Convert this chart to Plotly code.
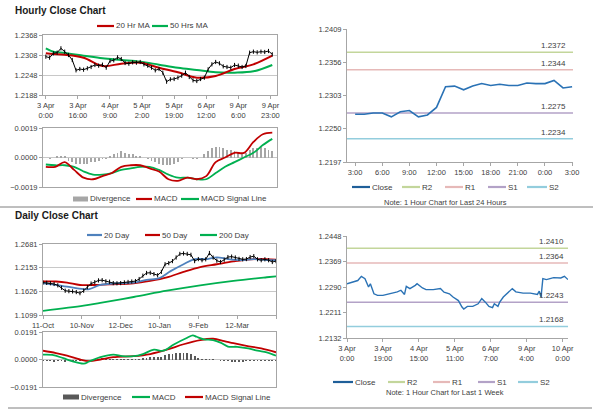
import plotly.graph_objects as go

W, H = 600, 413
FONT = "Liberation Sans, Arial, sans-serif"
TXT = "#404040"

# ---------------- Hourly close chart (top-left) ----------------
hourly_idx = [0, 2, 4, 6, 8, 10, 12, 14, 16, 18, 20, 22, 24, 26, 28, 30, 32, 34, 36, 38,
              40, 42, 44, 46, 48, 50, 52, 54, 56, 58, 60, 62, 64, 66, 68, 70, 72, 74, 76, 78,
              80, 82, 84, 86, 88, 90, 92, 94, 96, 98, 100, 102, 104, 106, 108, 110, 112, 114,
              116, 118, 120]
hourly_close = [1.2303, 1.2300, 1.2313, 1.2315, 1.2328, 1.2318, 1.2308, 1.2293, 1.2262, 1.2266,
                1.2264, 1.2268, 1.2272, 1.2278, 1.2276, 1.2279, 1.2270, 1.2290, 1.2292, 1.2301,
                1.2296, 1.2284, 1.2282, 1.2286, 1.2285, 1.2287, 1.2280, 1.2276, 1.2270, 1.2262,
                1.2266, 1.2255, 1.2228, 1.2235, 1.2236, 1.2240, 1.2246, 1.2255, 1.2242, 1.2232,
                1.2230, 1.2236, 1.2240, 1.2265, 1.2280, 1.2287, 1.2283, 1.2274, 1.2272, 1.2270,
                1.2278, 1.2276, 1.2272, 1.2275, 1.2315, 1.2318, 1.2316, 1.2318, 1.2317, 1.2320,
                1.2310]
hourly_ma_idx = [0, 4, 10, 20, 30, 40, 50, 60, 70, 80, 90, 100, 110, 120]
hourly_ma20 = [1.2313, 1.2311, 1.2309, 1.2300, 1.2275, 1.2282, 1.2285, 1.2270, 1.2256, 1.2240,
               1.2245, 1.2266, 1.2280, 1.2306]
hourly_ma50 = [1.2328, 1.2318, 1.2314, 1.2306, 1.2298, 1.2293, 1.2288, 1.2279, 1.2270, 1.2263,
               1.2256, 1.2255, 1.2259, 1.2278]
hourly_macd_idx = [0, 5, 10, 15, 20, 25, 30, 35, 40, 45, 50, 55, 60, 65, 70, 75, 80, 85, 90, 95,
                   100, 105, 110, 115, 120]
hourly_macd = [-0.0006, -0.0006, -0.0003, -0.0008, -0.0013, -0.0014, -0.0012, -0.0010, -0.0006,
               -0.0005, -0.0005, -0.0007, -0.0009, -0.0014, -0.0015, -0.0013, -0.0014, -0.0012,
               -0.0003, 0.0000, 0.0003, 0.0003, 0.0010, 0.0015, 0.0016]
hourly_signal = [-0.00045, -0.0005, -0.0005, -0.0006, -0.0009, -0.0011, -0.0011, -0.0010, -0.0008,
                 -0.0007, -0.0006, -0.0006, -0.0008, -0.0011, -0.0013, -0.0013, -0.0014, -0.0014,
                 -0.0010, -0.0006, -0.0003, 0.0000, 0.0003, 0.0008, 0.0012]
hourly_div = [0.0000, -0.0001, 0.0000, 0.0001, 0.0001, 0.0001,
              -0.0002, -0.0003, -0.0004, -0.0004, -0.0004, -0.0004, -0.0003, -0.0003, -0.0002, -0.0001,
              -0.0001, 0.0001, 0.0002, 0.0003,
              0.0004, 0.0003, 0.0002, 0.0002, 0.0001, 0.0001,
              0.0000, -0.0001, -0.0002, -0.0003, -0.0004, -0.0005, -0.0005, -0.0005, -0.0004, -0.0003,
              -0.0001, 0.0000, 0.0000, -0.0001, -0.0001, 0.0000, 0.0002,
              0.0004, 0.0006, 0.0007, 0.0007, 0.0006, 0.0005, 0.0005, 0.0004, 0.0003, 0.0002, 0.0003,
              0.0005, 0.0006, 0.0006, 0.0007, 0.0006, 0.0005, 0.0004]
hourly_tick_pos = [0, 17, 34, 51, 68, 85, 102, 119]
hourly_tick_labels = ["3 Apr<br>0:00", "3 Apr<br>16:00", "4 Apr<br>9:00", "5 Apr<br>2:00",
                      "5 Apr<br>19:00", "6 Apr<br>12:00", "9 Apr<br>6:00", "9 Apr<br>23:00"]
hourly_yticks = [1.2188, 1.2248, 1.2308, 1.2368]
hourly_macd_ticks = [-0.0019, 0.0, 0.0019]

# ---------------- Last 24 hours (top-right) ----------------
day_hours = [0, 1, 2, 3, 4, 5, 6, 7, 8, 9, 10, 11, 12, 13, 14, 15, 16, 17, 18, 19, 20, 21, 22, 23, 24]
day_close = [1.2273, 1.2273, 1.2275, 1.2275, 1.2269, 1.2277, 1.2279, 1.2269, 1.2272, 1.2284,
             1.2317, 1.2318, 1.2312, 1.2318, 1.2322, 1.2319, 1.2321, 1.2319, 1.2319, 1.2323,
             1.2322, 1.2322, 1.2327, 1.2315, 1.2317]
day_tick_pos = [0, 3, 6, 9, 12, 15, 18, 21, 24]
day_tick_labels = ["3:00", "6:00", "9:00", "12:00", "15:00", "18:00", "21:00", "0:00", "3:00"]
day_yticks = [1.2197, 1.2250, 1.2303, 1.2356, 1.2409]
level_names = ["R2", "R1", "S1", "S2"]
level_colors = ["#c3d69b", "#e6b9b8", "#b3a2c7", "#93cddd"]
day_levels = [1.2372, 1.2344, 1.2275, 1.2234]

# ---------------- Daily close chart (bottom-left) ----------------
daily_idx = [0, 2, 4, 6, 8, 10, 12, 14, 16, 18, 20, 22, 24, 26, 28, 30, 32, 34, 36, 38, 40, 42,
             44, 46, 48, 50, 52, 54, 56, 58, 60, 62, 64, 66, 68, 70, 72, 74, 76, 78, 80, 82, 84,
             86, 88, 90, 92, 94, 96, 98, 100, 102, 104, 106, 108, 110, 112, 114, 116, 118, 120,
             122, 124, 126]
daily_close = [1.1822, 1.1815, 1.1806, 1.1790, 1.1760, 1.1706, 1.1640, 1.1630, 1.1625, 1.1610,
               1.1585, 1.1640, 1.1720, 1.1800, 1.1830, 1.1870, 1.1875, 1.1850, 1.1840, 1.1810,
               1.1805, 1.1810, 1.1825, 1.1835, 1.1845, 1.1855, 1.1900, 1.1975, 1.2035, 1.2040,
               1.2010, 1.1985, 1.2060, 1.2230, 1.2255, 1.2300, 1.2380, 1.2460, 1.2470, 1.2460,
               1.2440, 1.2300, 1.2345, 1.2320, 1.2340, 1.2480, 1.2380, 1.2310, 1.2280, 1.2330,
               1.2390, 1.2400, 1.2380, 1.2350, 1.2340, 1.2345, 1.2390, 1.2410, 1.2340, 1.2320,
               1.2340, 1.2320, 1.2280, 1.2300]
ma20_idx = [0, 5, 13, 22, 25, 31, 40, 49, 56, 63, 69, 76, 82, 89, 94, 100, 107, 114, 121, 126]
ma20 = [1.1806, 1.1783, 1.1730, 1.1676, 1.1676, 1.1768, 1.1806, 1.1822, 1.1884, 1.1922, 1.2076,
        1.2230, 1.2345, 1.2345, 1.2384, 1.2345, 1.2322, 1.2345, 1.2322, 1.2322]
ma50_idx = [0, 7, 13, 20, 27, 36, 49, 58, 67, 76, 85, 94, 103, 112, 121, 126]
ma50 = [1.1845, 1.1845, 1.1822, 1.1768, 1.1768, 1.1784, 1.1806, 1.1860, 1.1937, 1.2061, 1.2168,
        1.2230, 1.2292, 1.2338, 1.2345, 1.2330]
ma200_idx = [0, 22, 31, 49, 67, 85, 103, 121, 126]
ma200 = [1.1191, 1.1306, 1.1370, 1.1500, 1.1640, 1.1760, 1.1860, 1.1940, 1.1960]
daily_macd_idx = [0, 5, 11, 16, 22, 25, 31, 38, 43, 49, 54, 60, 65, 71, 78, 81, 83, 87, 92, 96,
                  100, 105, 111, 116, 121, 126]
daily_macd = [0.0034, 0.0032, 0.0009, -0.0013, -0.0029, -0.0014, 0.0016, 0.0034, 0.0023, 0.0023,
              0.0038, 0.0068, 0.0061, 0.0106, 0.0151, 0.0167, 0.0158, 0.0140, 0.0135, 0.0117,
              0.0090, 0.0088, 0.0077, 0.0061, 0.0050, 0.0027]
daily_signal_idx = [0, 7, 13, 20, 25, 31, 38, 49, 58, 67, 76, 85, 92, 98, 103, 110, 118, 126]
daily_signal = [0.0061, 0.0045, 0.0027, 0.0000, -0.0011, 0.0000, 0.0016, 0.0023, 0.0038, 0.0068,
                0.0106, 0.0135, 0.0144, 0.0128, 0.0113, 0.0095, 0.0077, 0.0050]
daily_div = [-0.0012, -0.0013, -0.0013, -0.0014, -0.0013, -0.0013, -0.0014, -0.0012, -0.0010,
             -0.0010, -0.0012, -0.0010, -0.0005, -0.0002, 0.0002, 0.0005, 0.0008, 0.0006, 0.0005,
             0.0004, 0.0003, 0.0002, 0.0002, 0.0003, 0.0004, 0.0005, 0.0006, 0.0008, 0.0012,
             0.0015, 0.0016, 0.0015, 0.0020, 0.0030, 0.0035, 0.0040, 0.0042, 0.0044, 0.0045,
             0.0042, 0.0038, 0.0025, 0.0012, 0.0005, 0.0003, 0.0004, 0.0001, -0.0003, -0.0007,
             -0.0010, -0.0013, -0.0014, -0.0015, -0.0014, -0.0014, -0.0013, -0.0012, -0.0012,
             -0.0012, -0.0011, -0.0010, -0.0010, -0.0010, -0.0009]
daily_tick_pos = [0, 21, 42, 63, 84, 105, 126]
daily_tick_labels = ["11-Oct", "10-Nov", "12-Dec", "10-Jan", "9-Feb", "12-Mar", ""]
daily_yticks = [1.1099, 1.1626, 1.2153, 1.2681]
daily_macd_ticks = [-0.0191, 0.0, 0.0191]

# ---------------- Last 1 week (bottom-right) ----------------
week_idx = [0, 4, 6, 8, 10, 12, 13, 15, 17, 20, 24, 28, 30, 32, 33, 35, 38, 39, 42, 44, 48, 52,
            54, 57, 59, 62, 64, 65, 67, 70, 73, 75, 77, 79, 81, 82, 84, 85, 87, 89, 92, 94, 98,
            102, 106, 107, 108, 109, 111, 115, 119, 121, 123]
week_close = [1.2300, 1.2308, 1.2310, 1.2323, 1.2316, 1.2290, 1.2300, 1.2269, 1.2264, 1.2264,
              1.2269, 1.2275, 1.2280, 1.2267, 1.2292, 1.2285, 1.2295, 1.2300, 1.2287, 1.2282,
              1.2282, 1.2285, 1.2274, 1.2269, 1.2259, 1.2248, 1.2228, 1.2222, 1.2230, 1.2230,
              1.2238, 1.2254, 1.2243, 1.2230, 1.2226, 1.2238, 1.2230, 1.2243, 1.2259, 1.2269,
              1.2285, 1.2275, 1.2271, 1.2271, 1.2267, 1.2277, 1.2259, 1.2316, 1.2313, 1.2319,
              1.2318, 1.2323, 1.2313]
week_tick_pos = [0, 20, 40, 60, 80, 100, 120]
week_tick_labels = ["3 Apr<br>0:00", "3 Apr<br>19:00", "4 Apr<br>15:00", "5 Apr<br>11:00",
                    "6 Apr<br>7:00", "9 Apr<br>4:00", "10 Apr<br>0:00"]
week_yticks = [1.2132, 1.2211, 1.2290, 1.2369, 1.2448]
week_levels = [1.2410, 1.2364, 1.2243, 1.2168]

RED, GREEN, BLUE = "#c00000", "#00b050", "#4f81bd"
CLOSE_BLUE = "#2a72b5"


def fx(p):
    return p / W


def fy(p):
    return 1 - p / H


fig = go.Figure()


def add(tr, n):
    tr.update(xaxis="x" if n == 1 else f"x{n}", yaxis="y" if n == 1 else f"y{n}", showlegend=False,
              hoverinfo="skip")
    fig.add_trace(tr)


TICKMARK = dict(symbol="line-ns-open", size=3, color="black", line=dict(width=1, color="black"))

# Panel 1: hourly price
add(go.Scatter(x=hourly_ma_idx, y=hourly_ma50, mode="lines", line=dict(color=GREEN, width=2, shape="spline")), 1)
add(go.Scatter(x=hourly_ma_idx, y=hourly_ma20, mode="lines", line=dict(color=RED, width=2, shape="spline")), 1)
add(go.Scatter(x=hourly_idx, y=hourly_close, mode="lines+markers", line=dict(color="black", width=1),
               marker=TICKMARK), 1)
# Panel 2: hourly MACD
add(go.Bar(x=hourly_idx, y=hourly_div, width=1.0, marker=dict(color="#a6a6a6", line=dict(width=0))), 2)
add(go.Scatter(x=hourly_macd_idx, y=hourly_signal, mode="lines", line=dict(color=GREEN, width=1.8, shape="spline")), 2)
add(go.Scatter(x=hourly_macd_idx, y=hourly_macd, mode="lines", line=dict(color=RED, width=1.8, shape="spline")), 2)
# Panel 3: last 24 hours
for name, col, lv in zip(level_names, level_colors, day_levels):
    add(go.Scatter(x=[-0.9, 24.1], y=[lv, lv], mode="lines", line=dict(color=col, width=1.5)), 3)
add(go.Scatter(x=day_hours, y=day_close, mode="lines", line=dict(color=CLOSE_BLUE, width=1.6)), 3)
# Panel 4: daily price
add(go.Scatter(x=ma200_idx, y=ma200, mode="lines", line=dict(color=GREEN, width=1.8, shape="spline")), 4)
add(go.Scatter(x=ma50_idx, y=ma50, mode="lines", line=dict(color=RED, width=1.8, shape="spline")), 4)
add(go.Scatter(x=ma20_idx, y=ma20, mode="lines", line=dict(color=BLUE, width=1.8, shape="spline")), 4)
add(go.Scatter(x=daily_idx, y=daily_close, mode="lines+markers", line=dict(color="black", width=1),
               marker=TICKMARK), 4)
# Panel 5: daily MACD
add(go.Bar(x=daily_idx, y=daily_div, width=1.0, marker=dict(color="#595959", line=dict(width=0))), 5)
add(go.Scatter(x=daily_signal_idx, y=daily_signal, mode="lines", line=dict(color=RED, width=1.8, shape="spline")), 5)
add(go.Scatter(x=daily_macd_idx, y=daily_macd, mode="lines", line=dict(color=GREEN, width=1.8, shape="spline")), 5)
# Panel 6: last week
for name, col, lv in zip(level_names, level_colors, week_levels):
    add(go.Scatter(x=[0, 123], y=[lv, lv], mode="lines", line=dict(color=col, width=1.5)), 6)
add(go.Scatter(x=week_idx, y=week_close, mode="lines", line=dict(color=CLOSE_BLUE, width=1.4)), 6)

tickfont = dict(family=FONT, size=7.5, color=TXT)
GRID = "#c8c8c8"
LINE = "#a6a6a6"


def boxed_x(dom, rng, tv=None, tt=None, labels=True):
    return dict(domain=[fx(dom[0]), fx(dom[1])], range=rng, showgrid=False, zeroline=False,
                showline=True, linecolor=LINE, mirror=True, ticks="outside", ticklen=3, tickcolor=LINE,
                tickvals=tv if tv is not None else [], ticktext=tt, showticklabels=labels,
                tickfont=tickfont, tickangle=0, fixedrange=True, automargin=False)


def boxed_y(dom, rng, tv, anchor):
    return dict(domain=[fy(dom[1]), fy(dom[0])], range=rng, showgrid=True, gridcolor=GRID, gridwidth=1,
                zeroline=False, showline=True, linecolor=LINE, mirror=True, ticks="outside", ticklen=3,
                tickcolor=LINE, tickvals=tv, tickformat=".4f", tickfont=tickfont, anchor=anchor,
                fixedrange=True, automargin=False)


def open_x(dom, rng, tv, tt):
    return dict(domain=[fx(dom[0]), fx(dom[1])], range=rng, showgrid=False, zeroline=False,
                showline=True, linecolor=LINE, ticks="outside", ticklen=3, tickcolor=LINE,
                tickvals=tv, ticktext=tt, tickfont=tickfont, tickangle=0, fixedrange=True,
                automargin=False)


def open_y(dom, rng, tv, anchor):
    return dict(domain=[fy(dom[1]), fy(dom[0])], range=rng, showgrid=False, zeroline=False,
                showline=True, linecolor=LINE, ticks="outside", ticklen=3, tickcolor=LINE,
                tickvals=tv, tickformat=".4f", tickfont=tickfont, anchor=anchor, fixedrange=True,
                automargin=False)


layout = dict(
    width=W, height=H, margin=dict(l=0, r=0, t=0, b=0, pad=0, autoexpand=False),
    paper_bgcolor="white", plot_bgcolor="white", hovermode=False,
    showlegend=False, font=dict(family=FONT, color=TXT), barmode="overlay", bargap=0,
    xaxis=dict(boxed_x((43, 277), [-1.5, 122.5], hourly_tick_pos, hourly_tick_labels), anchor="y"),
    yaxis=boxed_y((35, 95), [hourly_yticks[0], hourly_yticks[-1]], hourly_yticks, "x"),
    xaxis2=dict(boxed_x((43, 277), [-1.5, 122.5], labels=False), anchor="y2"),
    yaxis2=boxed_y((128, 187), [-0.0019, 0.0019], hourly_macd_ticks, "x2"),
    xaxis3=dict(open_x((347, 573), [-0.9, 24.1], day_tick_pos, day_tick_labels), anchor="y3"),
    yaxis3=open_y((29, 162), [day_yticks[0], day_yticks[-1]], day_yticks, "x3"),
    xaxis4=dict(boxed_x((43, 276), [0, 126], daily_tick_pos, daily_tick_labels), anchor="y4"),
    yaxis4=boxed_y((244, 315), [daily_yticks[0], daily_yticks[-1]], daily_yticks, "x4"),
    xaxis5=dict(boxed_x((43, 276), [0, 126], labels=False), anchor="y5"),
    yaxis5=boxed_y((332, 387), [-0.0191, 0.0191], daily_macd_ticks, "x5"),
    xaxis6=dict(open_x((347, 568), [0, 123], week_tick_pos, week_tick_labels), anchor="y6"),
    yaxis6=open_y((236, 338), [week_yticks[0], week_yticks[-1]], week_yticks, "x6"),
)
fig.update_layout(**layout)

shapes = []
annotations = []


def text(x, y, s, size=8, anchor="left", bold=False, color=TXT):
    annotations.append(dict(x=fx(x), y=fy(y), xref="paper", yref="paper", text=f"<b>{s}</b>" if bold else s,
                            showarrow=False, xanchor=anchor, yanchor="middle",
                            font=dict(family=FONT, size=size, color=color)))


def leg_line(x0, x1, y, color, label, width=2.2):
    shapes.append(dict(type="line", xref="paper", yref="paper", x0=fx(x0), x1=fx(x1), y0=fy(y), y1=fy(y),
                       line=dict(color=color, width=width)))
    text(x1, y, label)


def leg_bar(x0, x1, y, color, label):
    shapes.append(dict(type="rect", xref="paper", yref="paper", x0=fx(x0), x1=fx(x1), y0=fy(y + 2.5),
                       y1=fy(y - 2.5), line=dict(width=0), fillcolor=color))
    text(x1, y, label)


# titles
text(13, 10, "Hourly Close Chart", size=10, bold=True, color="#1a1a1a")
text(13, 215, "Daily Close Chart", size=10, bold=True, color="#1a1a1a")

# legends
leg_line(97, 114, 26, RED, "20 Hr MA")
leg_line(152, 168, 26, GREEN, "50 Hrs MA")
leg_bar(73, 88, 199, "#a6a6a6", "Divergence")
leg_line(136, 152, 199, RED, "MACD")
leg_line(181, 199, 199, GREEN, "MACD Signal Line")

leg_line(352, 370, 187, "#1f5f99", "Close")
leg_line(402, 420, 187, level_colors[0], "R2")
leg_line(445, 463, 187, level_colors[1], "R1")
leg_line(488, 506, 187, level_colors[2], "S1")
leg_line(527, 547, 187, level_colors[3], "S2")
text(445, 202, "Note: 1 Hour Chart for Last 24 Hours", size=7.5, anchor="center")

leg_line(87, 102, 235, BLUE, "20 Day")
leg_line(145, 160, 235, RED, "50 Day")
leg_line(200, 217, 235, GREEN, "200 Day")
leg_bar(63, 79, 397, "#595959", "Divergence")
leg_line(132, 150, 397, GREEN, "MACD")
leg_line(185, 203, 397, RED, "MACD Signal Line")

leg_line(333, 353, 382, "#1f5f99", "Close")
leg_line(388, 405, 382, level_colors[0], "R2")
leg_line(433, 450, 382, level_colors[1], "R1")
leg_line(478, 495, 382, level_colors[2], "S1")
leg_line(518, 538, 382, level_colors[3], "S2")
text(445, 392, "Note: 1 Hour Chart for Last 1 Week", size=7.5, anchor="center")

# level labels
for lv in day_levels:
    annotations.append(dict(x=24.1, y=lv, xref="x3", yref="y3", text=f"{lv:.4f}", showarrow=False,
                            xanchor="right", yanchor="bottom", xshift=-5, yshift=0,
                            font=dict(family=FONT, size=8, color=TXT)))
for lv in week_levels:
    annotations.append(dict(x=123, y=lv, xref="x6", yref="y6", text=f"{lv:.4f}", showarrow=False,
                            xanchor="right", yanchor="bottom", xshift=-2, yshift=0,
                            font=dict(family=FONT, size=8, color=TXT)))

# separators
shapes.append(dict(type="line", xref="paper", yref="paper", x0=0, x1=fx(593), y0=fy(207), y1=fy(207),
                   line=dict(color="#7f7f7f", width=1)))
shapes.append(dict(type="line", xref="paper", yref="paper", x0=fx(8), x1=fx(592), y0=fy(408), y1=fy(408),
                   line=dict(color="#7f7f7f", width=1)))

fig.update_layout(shapes=shapes, annotations=annotations)
fig.write_html("out.html", config={"displayModeBar": False, "staticPlot": True},
               post_script="document.body.style.margin='0px';document.body.style.padding='0px';")
